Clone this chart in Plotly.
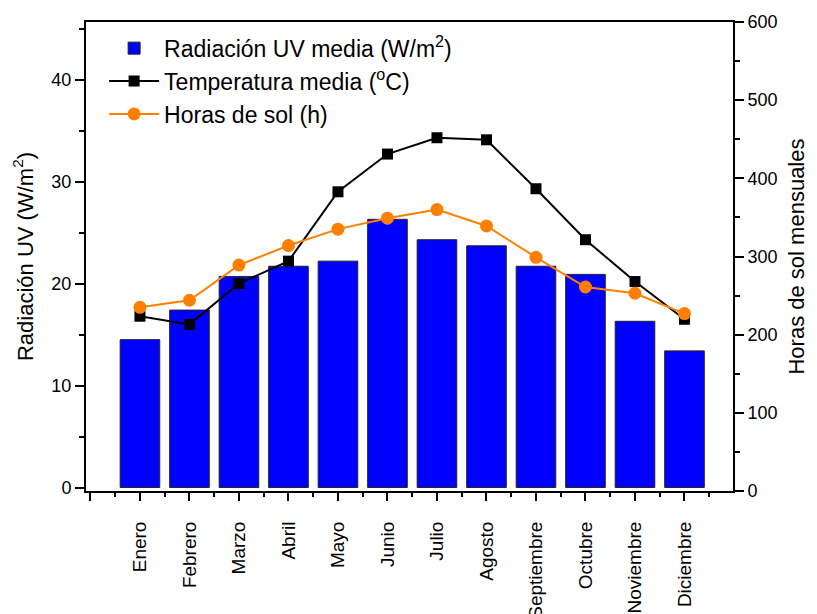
import plotly.graph_objects as go

meses = ["Enero", "Febrero", "Marzo", "Abril", "Mayo", "Junio", "Julio",
         "Agosto", "Septiembre", "Octubre", "Noviembre", "Diciembre"]
radiacion_uv = [14.5, 17.4, 20.7, 21.7, 22.2, 26.3, 24.3, 23.7, 21.7, 20.9, 16.3, 13.4]
temperatura = [16.8, 16.0, 20.0, 22.2, 29.0, 32.7, 34.3, 34.1, 29.3, 24.3, 20.2, 16.5]
horas_sol = [235, 244, 289, 314, 335, 349, 360, 339, 299, 261, 253, 227]

x_pos = list(range(len(meses)))
FONT = "Liberation Sans, Arial, sans-serif"

fig = go.Figure()
fig.add_trace(go.Bar(
    x=x_pos, y=radiacion_uv, width=0.8,
    marker=dict(color="#0000FF", line=dict(color="#222222", width=1)),
    name="Radiación UV media (W/m<sup>2</sup>)"))
fig.add_trace(go.Scatter(
    x=x_pos, y=temperatura, mode="lines+markers",
    line=dict(color="black", width=2),
    marker=dict(symbol="square", size=11, color="black"),
    name="Temperatura media (<sup>o</sup>C)"))
fig.add_trace(go.Scatter(
    x=x_pos, y=horas_sol, mode="lines+markers", yaxis="y2",
    line=dict(color="#FF8000", width=2),
    marker=dict(symbol="circle", size=13, color="#FF8000"),
    name="Horas de sol (h)"))

fig.update_layout(
    width=817, height=614,
    margin=dict(l=86, r=84, t=22, b=123),
    paper_bgcolor="white", plot_bgcolor="white",
    font=dict(family=FONT, size=18, color="black"),
    showlegend=True,
    legend=dict(x=0.028, y=0.99, xanchor="left", yanchor="top",
                font=dict(size=23), bgcolor="rgba(0,0,0,0)",
                traceorder="normal", itemwidth=50),
    bargap=0.2,
    xaxis=dict(
        range=[-1.09, 11.98], automargin=False,
        tickmode="array", tickvals=[-1] + x_pos, ticktext=[""] + meses,
        tickangle=-90, ticks="outside", ticklen=8, tickwidth=1.5,
        tickcolor="black", ticklabelstandoff=13,
        minor=dict(tickmode="linear", tick0=-0.5, dtick=1, ticks="outside",
                   ticklen=4, tickwidth=1.5, tickcolor="black"),
        showline=True, linecolor="black", linewidth=2, mirror=True,
        showgrid=False, zeroline=False,
        tickfont=dict(size=19)),
    yaxis=dict(
        range=[-0.34, 45.65], automargin=False,
        tickmode="linear", tick0=0, dtick=10,
        ticks="outside", ticklen=9, tickwidth=1.5, tickcolor="black",
        minor=dict(tickmode="linear", tick0=0, dtick=5, ticks="outside",
                   ticklen=5, tickwidth=1.5, tickcolor="black"),
        showline=True, linecolor="black", linewidth=2,
        showgrid=False, zeroline=False,
        title=dict(text="Radiación UV (W/m<sup>2</sup>)", font=dict(size=22),
                   standoff=12),
        tickfont=dict(size=18)),
    yaxis2=dict(
        overlaying="y", side="right", automargin=False,
        range=[0, 600], tickmode="linear", tick0=0, dtick=100,
        ticks="outside", ticklen=9, tickwidth=1.5, tickcolor="black",
        minor=dict(tickmode="linear", tick0=0, dtick=50, ticks="outside",
                   ticklen=5, tickwidth=1.5, tickcolor="black"),
        showline=True, linecolor="black", linewidth=2,
        showgrid=False, zeroline=False,
        title=dict(text="Horas de sol mensuales", font=dict(size=22),
                   standoff=12),
        tickfont=dict(size=18)),
)

fig.write_html("out.html", config={"displayModeBar": False},
               post_script="document.body.style.margin='0';document.body.style.overflow='hidden';")
